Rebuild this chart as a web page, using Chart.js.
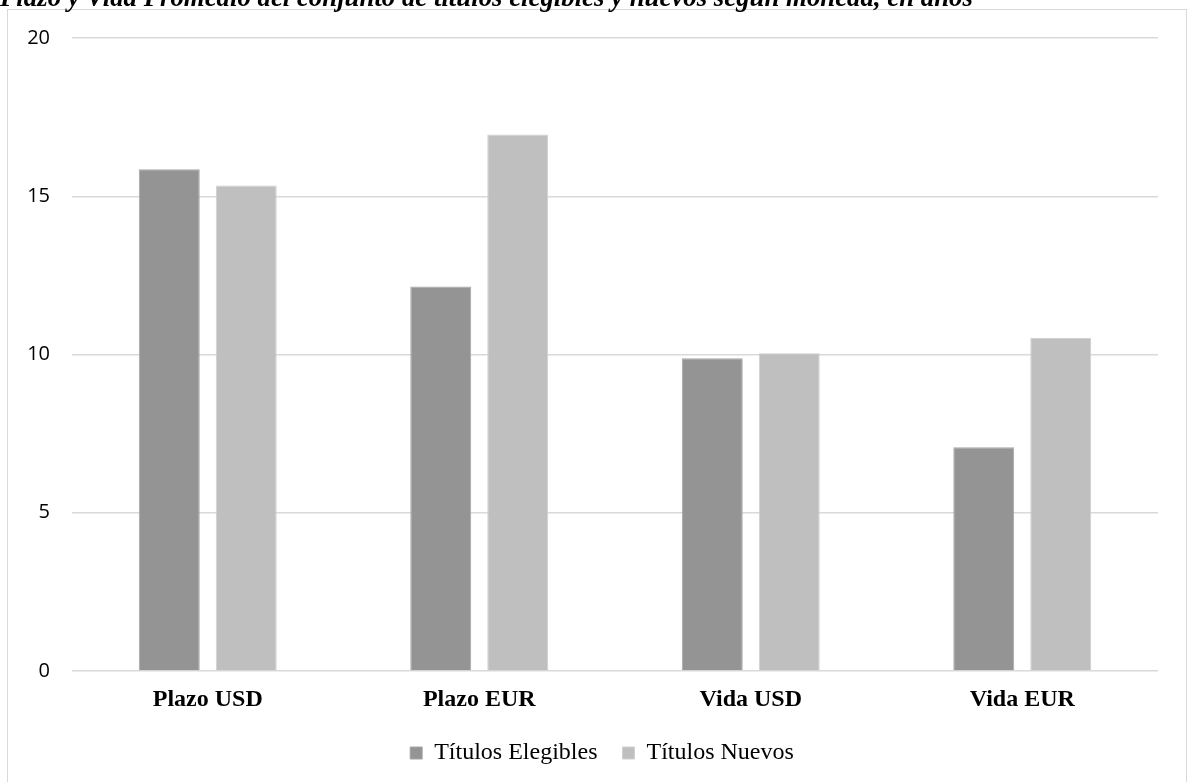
<!DOCTYPE html>
<html lang="es">
<head>
<meta charset="utf-8">
<title>Plazo y Vida Promedio</title>
<script src="https://cdn.jsdelivr.net/npm/chart.js@4.4.1/dist/chart.umd.min.js"></script>
<style>
    html, body {
        margin: 0;
        padding: 0;
        background: #ffffff;
        overflow: hidden;
    }
    #title {
        position: absolute;
        left: 0;
        top: -18px;
        font-family: "Liberation Serif", "Times New Roman", serif;
        font-weight: bold;
        font-style: italic;
        font-size: 26.8px;
        line-height: 30px;
        color: #000000;
        white-space: nowrap;
        z-index: 2;
    }
    #frame {
        position: absolute;
        left: 7px;
        top: 9px;
        width: 1180px;
        height: 790px;
        border: 1px solid #d9d9d9;
        box-sizing: border-box;
        background: #ffffff;
    }
    #frame canvas {
        position: absolute;
        left: 0;
        top: 0;
    }
</style>
</head>
<body>
<div id="title">Plazo y Vida Promedio del conjunto de títulos elegibles y nuevos según moneda, en años</div>
<div id="frame"><canvas id="plazoVidaChart" width="1178" height="788"></canvas></div>

<script>
    // Categorías y series (años)
    const categorias = ["Plazo USD", "Plazo EUR", "Vida USD", "Vida EUR"];
    const titulosElegibles = [15.85, 12.15, 9.88, 7.07];
    const titulosNuevos = [15.34, 16.95, 10.04, 10.53];
    const ticksEje = [0, 5, 10, 15, 20];

    const GRIS_OSCURO = "#949494";
    const GRIS_CLARO = "#bfbfbf";
    const GRIS_GRILLA = "#d9d9d9";

    // corre la leyenda para que quede centrada bajo las barras
    const LEYENDA_DESPLAZAMIENTO = 19;
    const moverLeyenda = {
        id: "moverLeyenda",
        afterLayout(chart) {
            chart.legend.left += LEYENDA_DESPLAZAMIENTO;
            chart.legend.right += LEYENDA_DESPLAZAMIENTO;
        }
    };

    const ctx = document.getElementById("plazoVidaChart").getContext("2d");

    new Chart(ctx, {
        type: "bar",
        data: {
            labels: categorias,
            datasets: [
                {
                    label: "Títulos Elegibles",
                    data: titulosElegibles,
                    backgroundColor: GRIS_OSCURO,
                    borderColor: "#a6a6a6",
                    borderWidth: 1,
                },
                {
                    label: "Títulos Nuevos",
                    data: titulosNuevos,
                    backgroundColor: GRIS_CLARO,
                    borderColor: "#d0d0d0",
                    borderWidth: 1,
                }
            ]
        },
        plugins: [moverLeyenda],
        options: {
            responsive: false,
            animation: false,
            categoryPercentage: 0.567,
            barPercentage: 0.792,
            layout: {
                padding: { top: 28, right: 28, left: 0, bottom: 23 }
            },
            plugins: {
                title: { display: false },
                tooltip: { enabled: false },
                legend: {
                    position: "bottom",
                    labels: {
                        boxWidth: 12,
                        boxHeight: 12,
                        padding: 25,
                        color: "#000000",
                        font: {
                            family: "'Liberation Serif', 'Times New Roman', serif",
                            size: 24
                        }
                    }
                }
            },
            scales: {
                x: {
                    grid: { display: false, drawTicks: false },
                    border: { display: false },
                    ticks: {
                        padding: 14,
                        color: "#000000",
                        font: {
                            family: "'Liberation Serif', 'Times New Roman', serif",
                            size: 24,
                            weight: "bold"
                        }
                    },
                    afterFit(axis) { axis.height = 45; }
                },
                y: {
                    min: 0,
                    max: 20,
                    afterBuildTicks(axis) {
                        axis.ticks = ticksEje.map(v => ({ value: v }));
                    },
                    grid: { color: GRIS_GRILLA, lineWidth: 1.5, drawTicks: false },
                    border: { display: false },
                    ticks: {
                        padding: 22,
                        color: "#000000",
                        font: {
                            family: "'Open Sans', 'Noto Sans', sans-serif",
                            size: 20
                        }
                    },
                    afterFit(axis) {
                        axis.width = 64;
                        axis.paddingTop = 0;
                        axis.paddingBottom = 0;
                    }
                }
            }
        }
    });
</script>
</body>
</html>
